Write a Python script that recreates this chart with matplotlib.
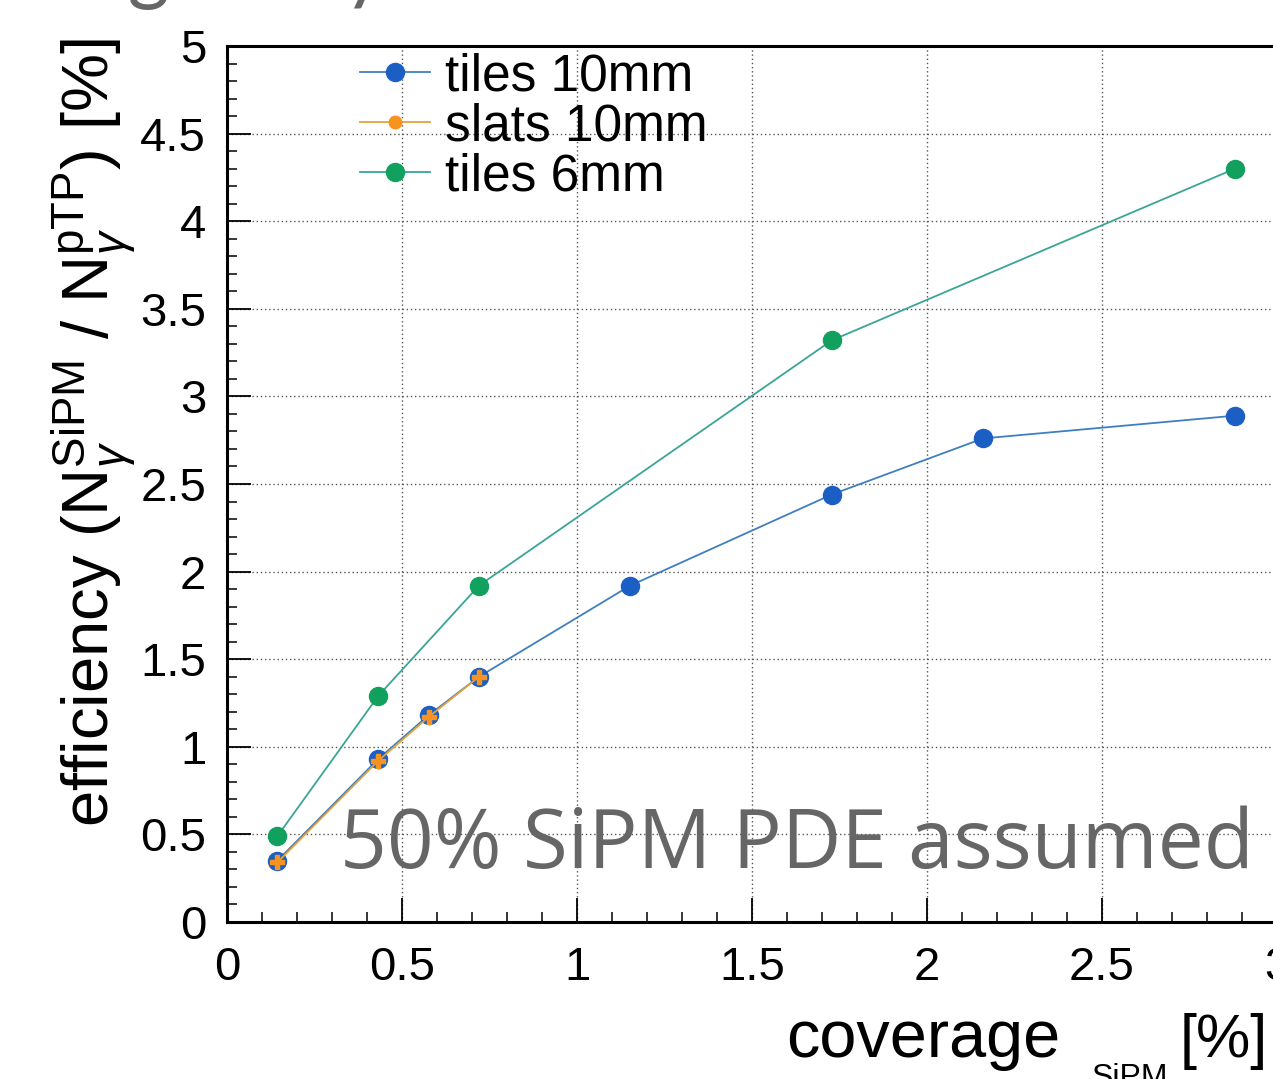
import matplotlib
matplotlib.use("Agg")
import matplotlib.pyplot as plt
from matplotlib.lines import Line2D
from matplotlib.ticker import MultipleLocator

plt.rcParams["font.family"] = ["Liberation Sans", "DejaVu Sans"]
plt.rcParams["mathtext.fontset"] = "custom"
plt.rcParams["mathtext.rm"] = "Liberation Sans"
plt.rcParams["mathtext.it"] = "Liberation Sans:italic"
plt.rcParams["mathtext.sf"] = "Liberation Sans"

# coverage [%] per series
tiles10_x = [0.144, 0.432, 0.576, 0.72, 1.152, 1.728, 2.16, 2.88]
tiles10_y = [0.35, 0.93, 1.18, 1.40, 1.92, 2.44, 2.76, 2.89]

slats10_x = [0.144, 0.432, 0.576, 0.72]
slats10_y = [0.34, 0.92, 1.17, 1.40]

tiles6_x = [0.144, 0.432, 0.72, 1.728, 2.88]
tiles6_y = [0.49, 1.29, 1.92, 3.32, 4.30]

labels = ["tiles 10mm", "slats 10mm", "tiles 6mm"]
xticks = [0, 0.5, 1, 1.5, 2, 2.5, 3]
yticks = [0, 0.5, 1, 1.5, 2, 2.5, 3, 3.5, 4, 4.5, 5]

c_blue, c_blue_line = "#1c5fc4", "#3f7fbf"
c_orange, c_orange_line = "#f7931e", "#e3a23a"
c_green, c_green_line = "#12a05e", "#3aa596"

fig = plt.figure(figsize=(12.73, 10.79), dpi=100)
ax = fig.add_axes([227 / 1273, 1 - 922 / 1079, 1050 / 1273, 876 / 1079])

ax.plot(tiles10_x, tiles10_y, "-o", color=c_blue_line, lw=1.3,
        mfc=c_blue, mec=c_blue, ms=13, zorder=3)
ax.plot(slats10_x, slats10_y, "-P", color=c_orange_line, lw=1.3,
        mfc=c_orange, mec=c_orange, ms=10, zorder=4)
ax.plot(tiles6_x, tiles6_y, "-o", color=c_green_line, lw=1.3,
        mfc=c_green, mec=c_green, ms=13, zorder=3)

ax.set_xlim(0, 3)
ax.set_ylim(0, 5)
ax.set_xticks(xticks)
ax.set_xticklabels([f"{v:g}" for v in xticks])
ax.set_yticks(yticks)
ax.set_yticklabels([f"{v:g}" for v in yticks])
ax.xaxis.set_minor_locator(MultipleLocator(0.1))
ax.yaxis.set_minor_locator(MultipleLocator(0.1))

ax.tick_params(which="both", direction="in", top=False, right=False,
               labelsize=34, colors="black")
ax.tick_params(which="major", length=17, width=1.3)
ax.tick_params(which="minor", length=7, width=1.1)
ax.tick_params(axis="x", which="major", pad=17)
ax.tick_params(axis="y", which="major", pad=15)
for s in ax.spines.values():
    s.set_linewidth(2.2)
ax.grid(True, which="major", ls=(0, (1, 2)), color="#555555", lw=1.0)
ax.set_axisbelow(True)

handles = [
    Line2D([], [], color=c_blue_line, lw=1.3, marker="o", ms=13, mfc=c_blue, mec=c_blue),
    Line2D([], [], color=c_orange_line, lw=1.3, marker="o", ms=9, mfc=c_orange, mec=c_orange),
    Line2D([], [], color=c_green_line, lw=1.3, marker="o", ms=13, mfc=c_green, mec=c_green),
]
ax.legend(handles, labels, loc="upper left", bbox_to_anchor=(0.127, 0.993),
          frameon=False, fontsize=37, handlelength=1.35, handletextpad=0.3,
          labelspacing=0.02, borderaxespad=0, borderpad=0)

ax.text(0.978, (922 - 868) / 876, "50% SiPM PDE assumed", transform=ax.transAxes,
        ha="right", va="baseline", fontsize=59, color="#666666",
        family=["Open Sans", "DejaVu Sans"])

fig.text(95 / 1273, 1 - 38 / 1079,
         r"efficiency (N$_{\gamma}^{\mathrm{SiPM}}$ / N$_{\gamma}^{\mathrm{pTP}}$) [%]",
         rotation=90, ha="center", va="top", fontsize=47)

# x title built in pieces so the subscript can sit low as in ROOT
fig.text(1268 / 1273, 1 - 1057 / 1079, "[%]", ha="right", va="baseline", fontsize=44)
fig.text(1168 / 1273, 1 - 1086 / 1079, "SiPM", ha="right", va="baseline", fontsize=23)
fig.text(1060 / 1273, 1 - 1057 / 1079, "coverage", ha="right", va="baseline", fontsize=48)

# cut-off slide title above the plot
fig.text(-22 / 1273, 1 + 6 / 1079, "Tiling study", ha="left", va="baseline",
         fontsize=58, color="#666666", family=["Lato", "DejaVu Sans"])

fig.savefig("out.png", dpi=100)
